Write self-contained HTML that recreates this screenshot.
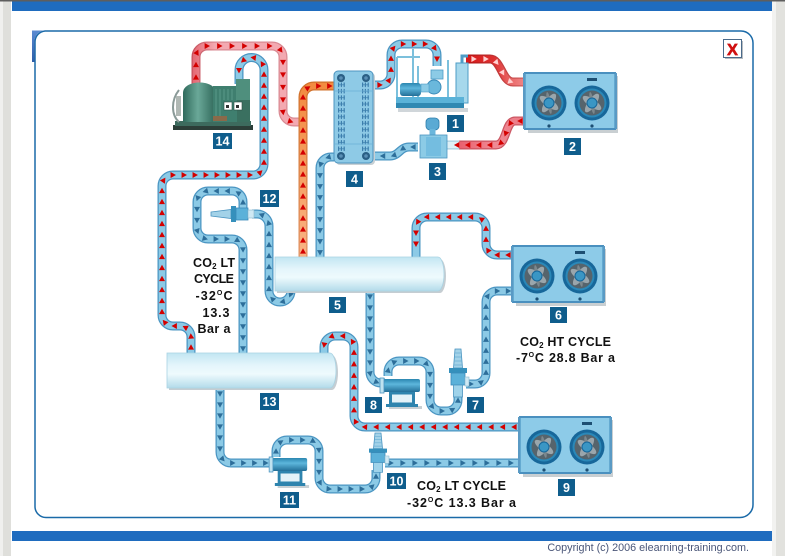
<!DOCTYPE html>
<html><head><meta charset="utf-8">
<style>
html,body{margin:0;padding:0;background:#fff;}
body{width:785px;height:556px;overflow:hidden;}
svg{display:block;}
text{font-family:"Liberation Sans",Arial,sans-serif;}
</style></head><body>
<svg id="s" width="785" height="556" viewBox="0 0 785 556" xmlns="http://www.w3.org/2000/svg" xmlns:xlink="http://www.w3.org/1999/xlink">
<defs>
 <linearGradient id="tabG" x1="0" y1="0" x2="0" y2="1"><stop offset="0" stop-color="#5b8bd2"/><stop offset="1" stop-color="#2d5ea8"/></linearGradient>
 <linearGradient id="tankG" x1="0" y1="0" x2="0" y2="1"><stop offset="0" stop-color="#c2e6f2"/><stop offset="0.35" stop-color="#e4f5fb"/><stop offset="0.6" stop-color="#eefafd"/><stop offset="1" stop-color="#b3dbea"/></linearGradient>
 <linearGradient id="cylG" x1="0" y1="0" x2="0" y2="1"><stop offset="0" stop-color="#2b86b0"/><stop offset="0.4" stop-color="#5cb6dc"/><stop offset="1" stop-color="#236f98"/></linearGradient>
 <linearGradient id="compG" x1="0" y1="0" x2="1" y2="0"><stop offset="0" stop-color="#2f6a5c"/><stop offset="0.45" stop-color="#6aa898"/><stop offset="1" stop-color="#2e6658"/></linearGradient>
 <linearGradient id="r1i" gradientUnits="userSpaceOnUse" x1="190" y1="0" x2="215" y2="0"><stop offset="0" stop-color="#e2606c"/><stop offset="1" stop-color="#f3a9b1"/></linearGradient>
 <linearGradient id="r1o" gradientUnits="userSpaceOnUse" x1="190" y1="0" x2="215" y2="0"><stop offset="0" stop-color="#c44a56"/><stop offset="1" stop-color="#d98a93"/></linearGradient>
 <linearGradient id="ori" gradientUnits="userSpaceOnUse" x1="0" y1="86" x2="0" y2="257"><stop offset="0" stop-color="#f28b40"/><stop offset="1" stop-color="#f9b485"/></linearGradient>
 <linearGradient id="oro" gradientUnits="userSpaceOnUse" x1="0" y1="86" x2="0" y2="257"><stop offset="0" stop-color="#d0702a"/><stop offset="1" stop-color="#e09060"/></linearGradient>
 <linearGradient id="r6i" gradientUnits="userSpaceOnUse" x1="468" y1="0" x2="526" y2="0"><stop offset="0" stop-color="#d81a1a"/><stop offset="0.45" stop-color="#dd3030"/><stop offset="0.75" stop-color="#ea6a6a"/><stop offset="1" stop-color="#f08a8a"/></linearGradient>
 <linearGradient id="r6o" gradientUnits="userSpaceOnUse" x1="468" y1="0" x2="526" y2="0"><stop offset="0" stop-color="#b01010"/><stop offset="1" stop-color="#d06060"/></linearGradient>
 <linearGradient id="r7i" gradientUnits="userSpaceOnUse" x1="446" y1="0" x2="526" y2="0"><stop offset="0" stop-color="#def0f6"/><stop offset="0.16" stop-color="#def0f6"/><stop offset="0.17" stop-color="#e9606e"/><stop offset="0.6" stop-color="#ef8a94"/><stop offset="1" stop-color="#ec7884"/></linearGradient>
 <linearGradient id="r7o" gradientUnits="userSpaceOnUse" x1="446" y1="0" x2="526" y2="0"><stop offset="0" stop-color="#a8cfe0"/><stop offset="0.16" stop-color="#a8cfe0"/><stop offset="0.17" stop-color="#c84f5c"/><stop offset="1" stop-color="#cc5a66"/></linearGradient>
 <pattern id="hxp" x="334" y="82" width="39" height="6.4" patternUnits="userSpaceOnUse">
  <rect x="4" y="0.5" width="1.2" height="4.5" fill="#3d7fae"/><rect x="6.8" y="0.5" width="1.2" height="4.5" fill="#3d7fae"/><rect x="9.6" y="0.5" width="1.2" height="4.5" fill="#3d7fae"/><rect x="4" y="2.4" width="6.8" height="0.8" fill="#3d7fae"/>
  <rect x="28" y="0.5" width="1.2" height="4.5" fill="#3d7fae"/><rect x="30.8" y="0.5" width="1.2" height="4.5" fill="#3d7fae"/><rect x="33.6" y="0.5" width="1.2" height="4.5" fill="#3d7fae"/><rect x="28" y="2.4" width="6.8" height="0.8" fill="#3d7fae"/>
 </pattern>
 <g id="fanblk">
  <circle r="17.5" fill="#17679a"/>
  <circle r="14.5" fill="#2a88b8"/>
  <circle r="12.5" fill="#56646c"/>
  <ellipse rx="11" ry="4" fill="#9aa6ac" transform="rotate(35)"/>
  <ellipse rx="11" ry="4" fill="#9aa6ac" transform="rotate(125)"/>
  <ellipse rx="11" ry="2" fill="#7c888e" transform="rotate(80)"/>
  <circle r="5" fill="#3a96c4" stroke="#17679a" stroke-width="1"/>
 </g>
 <g id="fan">
  <rect x="3" y="3" width="90" height="57" fill="#c9cfd2"/>
  <rect x="0" y="0" width="90" height="56" fill="#8dcbe8" stroke="#3a88ba" stroke-width="1"/>
  <rect x="-1" y="-1" width="92" height="2" fill="#4a90bf"/>
  <rect x="-1" y="55" width="92" height="2" fill="#4a90bf"/>
  <rect x="-2" y="0" width="2" height="56" fill="#5a9ac4"/>
  <rect x="90" y="0" width="2" height="56" fill="#5a9ac4"/>
  <rect x="62" y="5" width="10" height="3" fill="#1d4f73"/>
  <use href="#fanblk" xlink:href="#fanblk" x="24" y="30"/>
  <use href="#fanblk" xlink:href="#fanblk" x="67" y="30"/>
  <circle cx="24" cy="53" r="1.6" fill="#1d4f73"/>
  <circle cx="67" cy="53" r="1.6" fill="#1d4f73"/>
 </g>
 <g id="pump">
  <rect x="6" y="27" width="33" height="3" fill="#c8d0d4"/>
  <path d="M6,13 H32 V25 H35 V28 H3 V25 H6 Z" fill="#2e84ae"/>
  <rect x="9" y="15.5" width="20" height="8" fill="#e3f2f8"/>
  <rect x="0" y="0" width="37" height="13" rx="2" fill="url(#cylG)"/>
  <rect x="-3" y="-1" width="4" height="15" fill="#bfe2f0" stroke="#4a94c0" stroke-width="0.8"/>
 </g>
 <g id="vvalve">
  <path d="M-3,0 H3 L4.5,19 H-4.5 Z" fill="#a3d2e8" stroke="#4a94c0" stroke-width="0.8"/>
  <path d="M-3,4 H3 M-3.5,8 H3.5 M-4,12 H4 M-4,16 H4" stroke="#6aaed4" stroke-width="0.8"/>
  <rect x="-9" y="19" width="18" height="5" fill="#3590bc"/>
  <rect x="-7" y="24" width="14" height="12" fill="#5bb1d9" stroke="#3a8aba" stroke-width="0.8"/>
  <rect x="7" y="28" width="4" height="9" fill="#cfe9f4" stroke="#8ab8cc" stroke-width="0.6"/>
  <rect x="-4.5" y="36" width="9" height="12" fill="#9fd3ea" stroke="#4a94c0" stroke-width="0.8"/>
 </g>
</defs>

<!-- page frame -->
<rect x="0" y="0" width="785" height="556" fill="#fff"/>
<rect x="0" y="0" width="4" height="556" fill="#f0f0ee"/>
<rect x="3" y="0" width="8" height="556" fill="#dfdfdb"/>
<rect x="772" y="0" width="4" height="556" fill="#f2f2f0"/>
<rect x="776" y="0" width="9" height="556" fill="#e2e2de"/>
<rect x="0" y="0" width="785" height="1.5" fill="#5e5e5e"/>
<rect x="12" y="1.5" width="760" height="9.5" fill="#1f6cbf"/>
<rect x="12" y="531" width="760" height="10" fill="#1f6cbf"/>
<text x="749" y="551" text-anchor="end" font-size="10.8" fill="#4a5678">Copyright (c) 2006 elearning-training.com.</text>

<!-- panel -->
<path d="M45,31 H741 A12,12 0 0 1 753,43 V504 A13,13 0 0 1 740,517.5 H46 A11,11 0 0 1 35,506.5 V42 A11,11 0 0 1 45,31 Z" fill="#fff" stroke="#1a6aa8" stroke-width="1.5"/>
<path d="M32,30.5 H45 A10.5,10.5 0 0 0 34.5,41 V62 H32 Z" fill="url(#tabG)"/>

<!-- close button -->
<rect x="725" y="41" width="18" height="18" fill="#b8bcc0"/>
<rect x="723.5" y="39.5" width="18" height="18" fill="#fff" stroke="#4a6a8a" stroke-width="1"/>
<text x="732.5" y="54.8" text-anchor="middle" font-size="16" font-weight="bold" fill="#d01010" stroke="#d01010" stroke-width="0.7">X</text>

<!-- pipes: outer -->
<g fill="none" stroke-linejoin="round">
 <path id="p1" d="M196,84 V57 A11,11 0 0 1 207,46 H272 A11,11 0 0 1 283,57 V111 A11,11 0 0 0 294,122 H303" stroke="url(#r1o)" stroke-width="9"/>
 <path d="M196,84 V57 A11,11 0 0 1 207,46 H272 A11,11 0 0 1 283,57 V111 A11,11 0 0 0 294,122 H303" stroke="url(#r1i)" stroke-width="6.5"/>
 <path id="p3" d="M303,257 V97 A11,11 0 0 1 314,86 H334" stroke="url(#oro)" stroke-width="9"/>
 <path d="M303,257 V97 A11,11 0 0 1 314,86 H334" stroke="url(#ori)" stroke-width="6.5"/>
 <path id="p6" d="M466,59 H490 C501,59 502,82 513,82 H526" stroke="url(#r6o)" stroke-width="9"/>
 <path d="M466,59 H490 C501,59 502,82 513,82 H526" stroke="url(#r6i)" stroke-width="6.5"/>
 <path id="p7" d="M526,121 H515 C505,121 507,145 496,145 H446" stroke="url(#r7o)" stroke-width="9"/>
 <path d="M526,121 H515 C505,121 507,145 496,145 H446" stroke="url(#r7i)" stroke-width="6.5"/>
</g>
<g fill="none" stroke="#4a95c2" stroke-width="9" stroke-linejoin="round">
 <path id="p2" d="M191,353 V337 A11,11 0 0 0 180,326 H173 A11,11 0 0 1 162,315 V186 A11,11 0 0 1 173,175 H253 A11,11 0 0 0 264,164 V70 A12.5,12.5 0 0 0 251.5,57.5 A12.5,12.5 0 0 0 239,70 V84"/>
 <path id="p4" d="M334,157 H331 A11,11 0 0 0 320,168 V257"/>
 <path id="p5" d="M373,85 H380 A11,11 0 0 0 391,74 V55 A11,11 0 0 1 402,44 H426 A11,11 0 0 1 437,55 V66"/>
 <path id="p8" d="M418,147 H409 C400,147 399,156 390,156 H373"/>
 <path id="p9" d="M291,289 V291 A11,11 0 0 1 280,302 A11,11 0 0 1 269,291 V226 A12,12 0 0 0 257,214 H252"/>
 <path id="p10" d="M243,208 V202 A11,11 0 0 0 232,191 H208 A11,11 0 0 0 197,202 V228 A11,11 0 0 0 208,239 H232 A11,11 0 0 1 243,250 V353"/>
 <path id="p11" d="M370,291 V372 A11,11 0 0 0 381,383 H385"/>
 <path id="p12" d="M388,376 V372 A11,11 0 0 1 399,361 H419 A11,11 0 0 1 430,372 V400 A11,11 0 0 0 441,411 H447 A11,11 0 0 0 458,400 V396"/>
 <path id="p13" d="M466,384 H475 A11,11 0 0 0 486,373 V302 A11,11 0 0 1 497,291 H513"/>
 <path id="p14" d="M513,255 H497 A11,11 0 0 1 486,244 V228 A11,11 0 0 0 475,217 H427 A11,11 0 0 0 416,228 V257"/>
 <path id="p15" d="M520,427 H365 A11,11 0 0 1 354,416 V347 A11,11 0 0 0 343,336 H335 A11,11 0 0 0 324,347 V353"/>
 <path id="p16" d="M220,388 V452 A11,11 0 0 0 231,463 H272"/>
 <path id="p17" d="M276,457 V451 A11,11 0 0 1 287,440 H308 A11,11 0 0 1 319,451 V478 A11,11 0 0 0 330,489 H365 A11,11 0 0 0 376,478 V470"/>
 <path id="p18" d="M385,463 H520"/>
</g>
<g fill="none" stroke="#8ccae6" stroke-width="6.5" stroke-linejoin="round">
 <use href="#p2" xlink:href="#p2"/><use href="#p4" xlink:href="#p4"/><use href="#p5" xlink:href="#p5"/>
 <use href="#p8" xlink:href="#p8"/><use href="#p9" xlink:href="#p9"/><use href="#p10" xlink:href="#p10"/>
 <use href="#p11" xlink:href="#p11"/><use href="#p12" xlink:href="#p12"/><use href="#p13" xlink:href="#p13"/>
 <use href="#p14" xlink:href="#p14"/><use href="#p15" xlink:href="#p15"/><use href="#p16" xlink:href="#p16"/>
 <use href="#p17" xlink:href="#p17"/><use href="#p18" xlink:href="#p18"/>
</g>
<g id="arrows"></g>

<!-- tanks -->
<path d="M277,259 H440 A6,17 0 0 1 440,293 H277 Z" fill="#c5cdd2"/>
<path d="M275,257 H438 A6,17 0 0 1 438,291 H275 Z" fill="url(#tankG)" stroke="#a9d3e3" stroke-width="0.8"/>
<path d="M169,355 H332 A6,17.5 0 0 1 332,390 H169 Z" fill="#c5cdd2"/>
<path d="M167,353 H330 A6,17.5 0 0 1 330,388 H167 Z" fill="url(#tankG)" stroke="#a9d3e3" stroke-width="0.8"/>

<!-- heat exchanger 4 -->
<rect x="336" y="73" width="39" height="92" rx="4" fill="#c8d0d4"/>
<rect x="334" y="71" width="39" height="92" rx="4" fill="#8ecae6" stroke="#4c94c0" stroke-width="1"/>
<rect x="334" y="82" width="39" height="70" fill="url(#hxp)"/>
<line x1="335" y1="91" x2="372" y2="91" stroke="#6aaed4" stroke-width="0.8"/>
<line x1="335" y1="144" x2="372" y2="144" stroke="#6aaed4" stroke-width="0.8"/>
<g fill="#2a5f85"><circle cx="341" cy="78" r="4"/><circle cx="366" cy="78" r="4"/><circle cx="341" cy="156" r="4"/><circle cx="366" cy="156" r="4"/></g>
<g fill="#5a8fb5"><circle cx="341" cy="78" r="1.8"/><circle cx="366" cy="78" r="1.8"/><circle cx="341" cy="156" r="1.8"/><circle cx="366" cy="156" r="1.8"/></g>

<!-- compressor 14 -->
<rect x="173" y="125" width="80" height="5" fill="#2c3e38"/>
<rect x="175" y="121" width="76" height="5" fill="#3d6b5e"/>
<path d="M179,90 C171,100 171,115 179,122" stroke="#8a9a98" stroke-width="2" fill="none"/>
<rect x="176" y="96" width="5" height="20" fill="#b0b8b4"/>
<path d="M183,122 V93 C183,79 216,79 216,93 V122 Z" fill="url(#compG)"/>
<rect x="213" y="86" width="26" height="36" fill="#3f7f6f"/>
<path d="M216,89 V118 M220,89 V118 M224,89 V100 M228,89 V100 M232,89 V100" stroke="#5a9a88" stroke-width="1"/>
<rect x="236" y="79" width="14" height="21" fill="#4f8f7d"/>
<rect x="237" y="100" width="13" height="22" fill="#3a7060"/>
<rect x="224" y="102" width="8" height="8" fill="#fff" stroke="#2c4c44" stroke-width="0.6"/>
<rect x="234" y="102" width="8" height="8" fill="#fff" stroke="#2c4c44" stroke-width="0.6"/>
<rect x="226" y="105" width="3" height="3" fill="#333"/><rect x="236" y="105" width="3" height="3" fill="#333"/>
<rect x="213" y="116" width="14" height="5" fill="#8a6a4a"/>

<!-- pump skid 1 -->
<rect x="398" y="108" width="70" height="4" fill="#d0d6da"/>
<path d="M397,98 V57 M413,98 V49 M418,98 V66 M448,98 V60 M397,57 H420" stroke="#7cc0dc" stroke-width="2" fill="none"/>
<rect x="456" y="63" width="12" height="40" fill="#a6d8ec" stroke="#4e9cc6" stroke-width="1"/>
<path d="M462,63 V56 H468" stroke="#4e9cc6" stroke-width="3" fill="none"/>
<rect x="396" y="97" width="68" height="6" fill="#5ab2d8"/>
<rect x="396" y="103" width="68" height="5" fill="#2f88b2"/>
<rect x="400" y="83" width="21" height="13" rx="3" fill="url(#cylG)"/>
<circle cx="434" cy="87" r="7" fill="#6ab8dc" stroke="#3a8ab8" stroke-width="1"/>
<rect x="421" y="84" width="8" height="8" fill="#8ccbe6" stroke="#4e9cc6" stroke-width="0.6"/>
<rect x="431" y="70" width="12" height="9" fill="#8ccbe6" stroke="#4e9cc6" stroke-width="0.8"/>

<!-- valve 3 -->
<rect x="426" y="118" width="13" height="12" rx="4" fill="#5aaad4" stroke="#2f7fac" stroke-width="0.8"/>
<rect x="429.5" y="129" width="6" height="7" fill="#6ab6dc"/>
<rect x="420" y="135" width="27" height="23" fill="#8ccbe6" stroke="#4a94c0" stroke-width="0.8"/>
<rect x="426" y="137" width="15" height="19" fill="#74bde0"/>

<!-- valve 12 -->
<path d="M211,212 L231,209.5 V218.5 L211,216 Z" fill="#a3d2e8" stroke="#4a94c0" stroke-width="0.8"/>
<rect x="231" y="206" width="5" height="16" fill="#3590bc"/>
<rect x="236" y="208" width="12" height="12" fill="#5bb1d9" stroke="#3a8aba" stroke-width="0.8"/>
<rect x="248" y="210" width="6" height="8" fill="#cfe9f4" stroke="#8ab8cc" stroke-width="0.6"/>

<!-- valves 7, 10 -->
<use href="#vvalve" xlink:href="#vvalve" transform="translate(458,349)"/>
<use href="#vvalve" xlink:href="#vvalve" transform="translate(378,433) scale(1,0.82)"/>

<!-- pumps 8, 11 -->
<use href="#pump" xlink:href="#pump" transform="translate(383,379)"/>
<use href="#pump" xlink:href="#pump" transform="translate(272,458) scale(0.95,1)"/>

<!-- fan units -->
<use href="#fan" xlink:href="#fan" transform="translate(525,73)"/>
<use href="#fan" xlink:href="#fan" transform="translate(513,246)"/>
<use href="#fan" xlink:href="#fan" transform="translate(520,417)"/>

<!-- labels -->
<g fill="#0f5d8c">
 <rect x="213" y="133" width="19" height="16"/>
 <rect x="346" y="171" width="17" height="16"/>
 <rect x="447" y="115" width="17" height="17"/>
 <rect x="564" y="138" width="17" height="17"/>
 <rect x="429" y="163" width="17" height="17"/>
 <rect x="260" y="190" width="19" height="17"/>
 <rect x="329" y="297" width="17" height="16"/>
 <rect x="260" y="393" width="19" height="17"/>
 <rect x="550" y="307" width="17" height="16"/>
 <rect x="467" y="397" width="17" height="16"/>
 <rect x="365" y="397" width="17" height="16"/>
 <rect x="558" y="479" width="17" height="17"/>
 <rect x="387" y="473" width="19" height="16"/>
 <rect x="280" y="492" width="19" height="16"/>
</g>
<g fill="#fff" font-size="12.5" font-weight="bold" text-anchor="middle">
 <text x="222.5" y="145.5">14</text>
 <text x="354.5" y="183.5">4</text>
 <text x="455.5" y="128">1</text>
 <text x="572.5" y="151">2</text>
 <text x="437.5" y="176">3</text>
 <text x="269.5" y="203">12</text>
 <text x="337.5" y="309.5">5</text>
 <text x="269.5" y="406">13</text>
 <text x="558.5" y="319.5">6</text>
 <text x="475.5" y="409.5">7</text>
 <text x="373.5" y="409.5">8</text>
 <text x="566.5" y="492">9</text>
 <text x="396.5" y="485.5">10</text>
 <text x="289.5" y="504.5">11</text>
</g>

<!-- cycle texts -->
<g fill="#111" font-size="12.5" font-weight="bold" text-anchor="middle">
 <text x="214" y="267" textLength="42">CO<tspan font-size="8" dy="2">2</tspan><tspan dy="-2"> LT</tspan></text>
 <text x="214" y="283" textLength="40">CYCLE</text>
 <text x="214" y="300" textLength="37">-32<tspan font-size="7" dy="-5">O</tspan><tspan dy="5">C</tspan></text>
 <text x="216" y="317" textLength="27">13.3</text>
 <text x="214" y="333" textLength="33">Bar a</text>

 <text x="565.5" y="346" textLength="91">CO<tspan font-size="8" dy="2">2</tspan><tspan dy="-2"> HT CYCLE</tspan></text>
 <text x="565.5" y="362" textLength="99">-7<tspan font-size="7" dy="-5">O</tspan><tspan dy="5">C 28.8 Bar a</tspan></text>

 <text x="461.5" y="490" textLength="89">CO<tspan font-size="8" dy="2">2</tspan><tspan dy="-2"> LT CYCLE</tspan></text>
 <text x="461.5" y="507" textLength="109">-32<tspan font-size="7" dy="-5">O</tspan><tspan dy="5">C 13.3 Bar a</tspan></text>
</g>
</svg>
<script>
(function(){
 var NS="http://www.w3.org/2000/svg";
 var g=document.getElementById('arrows');
 var R="#d40000",B="#2d6e9a";
 var cfg=[["p1",R,12.5,7],["p2",R,11,6],["p3",R,11,6],["p4",B,11,6],["p5",R,11,7],["p6","#ffd0d0",12,8],
  ["p7",R,11,6],["p8",B,11,5],["p9",B,11,6],["p10",B,11,6],["p11",B,11,6],["p12",B,11,6],["p13",B,11,5],
  ["p14",R,11,5],["p15",R,11.5,6],["p16",B,11,6],["p17",B,11,6],["p18",B,12,6]];
 cfg.forEach(function(c){
  var p=document.getElementById(c[0]); if(!p||!p.getTotalLength) return;
  var L=p.getTotalLength();
  for(var s=c[3]; s<L-4; s+=c[2]){
   var a=p.getPointAtLength(Math.max(0,s-1)), b=p.getPointAtLength(Math.min(L,s+1)), m=p.getPointAtLength(s);
   var ang=Math.atan2(b.y-a.y,b.x-a.x)*180/Math.PI;
   var t=document.createElementNS(NS,'path');
   t.setAttribute('d','M2.8,0 L-2.6,-3 L-2.6,3 Z');
   t.setAttribute('fill',c[1]);
   t.setAttribute('transform','translate('+m.x.toFixed(2)+','+m.y.toFixed(2)+') rotate('+ang.toFixed(1)+')');
   g.appendChild(t);
  }
 });
})();
</script>
</body></html>
